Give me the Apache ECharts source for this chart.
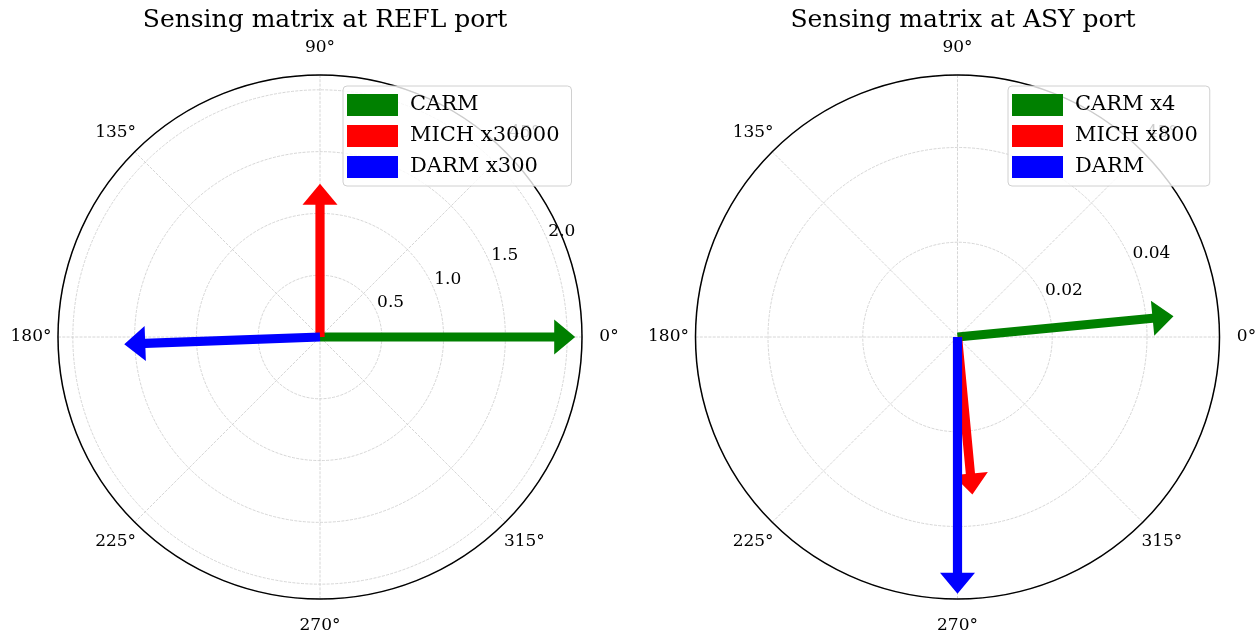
<!DOCTYPE html>
<html>
<head>
<meta charset="utf-8">
<title>Sensing matrix</title>
<script src="https://cdn.jsdelivr.net/npm/echarts@6/dist/echarts.min.js"></script>
<style>
  html, body { margin: 0; padding: 0; background: #fff; }
  #chart { width: 1258px; height: 639px; }
</style>
</head>
<body>
<div id="chart"></div>
<script>
// Degrees of freedom drawn as phasors (magnitude, phase in degrees)
const reflLegend = ['CARM', 'MICH x30000', 'DARM x300'];
const reflMagnitude = [2.065, 1.24, 1.585];
const reflPhase = [0, 90, 182.1];

const asyLegend = ['CARM x4', 'MICH x800', 'DARM'];
const asyMagnitude = [0.0458, 0.0334, 0.0542];
const asyPhase = [5.5, 275.4, 270];

const dofColors = ['#008000', '#ff0000', '#0000ff'];

// Axis ticks
const angleTicks = [0, 45, 90, 135, 180, 225, 270, 315];
const angleTickLabels = ['0°', '45°', '90°', '135°', '180°', '225°', '270°', '315°'];
const reflRadialTicks = [0.5, 1.0, 1.5, 2.0];
const reflRadialLabels = ['0.5', '1.0', '1.5', '2.0'];
const asyRadialTicks = [0.02, 0.04];
const asyRadialLabels = ['0.02', '0.04'];
const reflRmax = 2.12;
const asyRmax = 0.0553;
const rlabelAngle = 22.5;

const FONT = '"DejaVu Serif", "Liberation Serif", serif';
const gridStyle = { color: '#cccccc', width: 0.8, type: [3, 1.3] };

const chart = echarts.init(document.getElementById('chart'), null, { renderer: 'canvas' });

// Filled arrow from the pole to (r, theta), constant head size in pixels
function arrowItem(params, api) {
  const r = api.value(0), a = api.value(1);
  const p0 = api.coord([0, a]);
  const p1 = api.coord([r, a]);
  const dx = p1[0] - p0[0], dy = p1[1] - p0[1];
  const L = Math.hypot(dx, dy) || 1;
  const ux = dx / L, uy = dy / L, nx = -uy, ny = ux;
  const hl = 21, hw = 17.5, sw = 4.6;
  const bx = p1[0] - ux * hl, by = p1[1] - uy * hl;
  const pts = [
    [p0[0] + nx * sw, p0[1] + ny * sw],
    [bx + nx * sw, by + ny * sw],
    [bx + nx * hw, by + ny * hw],
    [p1[0], p1[1]],
    [bx - nx * hw, by - ny * hw],
    [bx - nx * sw, by - ny * sw],
    [p0[0] - nx * sw, p0[1] - ny * sw]
  ];
  return { type: 'polygon', shape: { points: pts }, style: { fill: api.visual('color') } };
}

// Angular tick labels, centred a fixed distance outside the rim
function angleLabelItem(params, api) {
  const r = api.value(0), a = api.value(1);
  const p0 = api.coord([0, a]);
  const p1 = api.coord([r, a]);
  const dx = p1[0] - p0[0], dy = p1[1] - p0[1];
  const L = Math.hypot(dx, dy) || 1;
  const off = 27;
  return {
    type: 'text',
    x: p1[0] + dx / L * off,
    y: p1[1] + dy / L * off,
    style: {
      text: angleTickLabels[params.dataIndex],
      fill: '#000', font: '17px ' + FONT,
      align: 'center', verticalAlign: 'middle'
    }
  };
}

// Radial tick labels placed along the 22.5° direction
function radialLabelItem(labels) {
  return function (params, api) {
    const p = api.coord([api.value(0), api.value(1)]);
    return {
      type: 'text', x: p[0], y: p[1] - 2,
      style: {
        text: labels[params.dataIndex],
        fill: '#000', font: '17px ' + FONT,
        align: 'left', verticalAlign: 'bottom'
      }
    };
  };
}

function polarSeries(polarIndex, names, mags, phases, rmax, rticks, rlabels) {
  const out = names.map((name, i) => ({
    type: 'custom', name: name, coordinateSystem: 'polar', polarIndex: polarIndex,
    itemStyle: { color: dofColors[i] }, silent: true, z: 3 + i,
    renderItem: arrowItem,
    data: [[mags[i], phases[i]]]
  }));
  out.push({
    type: 'custom', coordinateSystem: 'polar', polarIndex: polarIndex, silent: true, z: 2,
    renderItem: angleLabelItem,
    data: angleTicks.map(a => [rmax, a])
  });
  out.push({
    type: 'custom', coordinateSystem: 'polar', polarIndex: polarIndex, silent: true, z: 2,
    renderItem: radialLabelItem(rlabels),
    data: rticks.map(v => [v, rlabelAngle])
  });
  return out;
}

function angleAxis(polarIndex) {
  return {
    polarIndex: polarIndex, type: 'value', min: 0, max: 360, interval: 45,
    startAngle: 0, clockwise: false,
    axisLine: { show: true, lineStyle: { color: '#000', width: 1.5 } },
    axisTick: { show: false }, axisLabel: { show: false },
    splitLine: { show: true, lineStyle: gridStyle }
  };
}

function radiusAxis(polarIndex, rmax, interval) {
  return {
    polarIndex: polarIndex, type: 'value', min: 0, max: rmax, interval: interval,
    axisLine: { show: false }, axisTick: { show: false }, axisLabel: { show: false },
    splitLine: { show: true, lineStyle: gridStyle }
  };
}

function legend(left, names) {
  return {
    data: names, left: left, top: 86, orient: 'vertical',
    icon: 'rect', itemWidth: 51, itemHeight: 22, itemGap: 9,
    padding: [8, 12, 8, 4],
    backgroundColor: 'rgba(255,255,255,0.8)',
    borderColor: '#d0d0d0', borderWidth: 1, borderRadius: 4,
    selectedMode: false,
    textStyle: { fontFamily: FONT, fontSize: 21, color: '#000', padding: [0, 0, 0, 7] }
  };
}

const titleStyle = { fontFamily: FONT, fontSize: 25, fontWeight: 'normal', color: '#000' };

chart.setOption({
  animation: false,
  backgroundColor: '#fff',
  title: [
    { text: 'Sensing matrix at REFL port', left: 320, top: 3, textAlign: 'center', textStyle: titleStyle },
    { text: 'Sensing matrix at ASY port', left: 958, top: 3, textAlign: 'center', textStyle: titleStyle }
  ],
  legend: [legend(343, reflLegend), legend(1008, asyLegend)],
  polar: [
    { center: [320, 337], radius: 262 },
    { center: [957.5, 337], radius: 262 }
  ],
  angleAxis: [angleAxis(0), angleAxis(1)],
  radiusAxis: [radiusAxis(0, reflRmax, 0.5), radiusAxis(1, asyRmax, 0.02)],
  series: [].concat(
    polarSeries(0, reflLegend, reflMagnitude, reflPhase, reflRmax, reflRadialTicks, reflRadialLabels),
    polarSeries(1, asyLegend, asyMagnitude, asyPhase, asyRmax, asyRadialTicks, asyRadialLabels)
  )
});
</script>
</body>
</html>
